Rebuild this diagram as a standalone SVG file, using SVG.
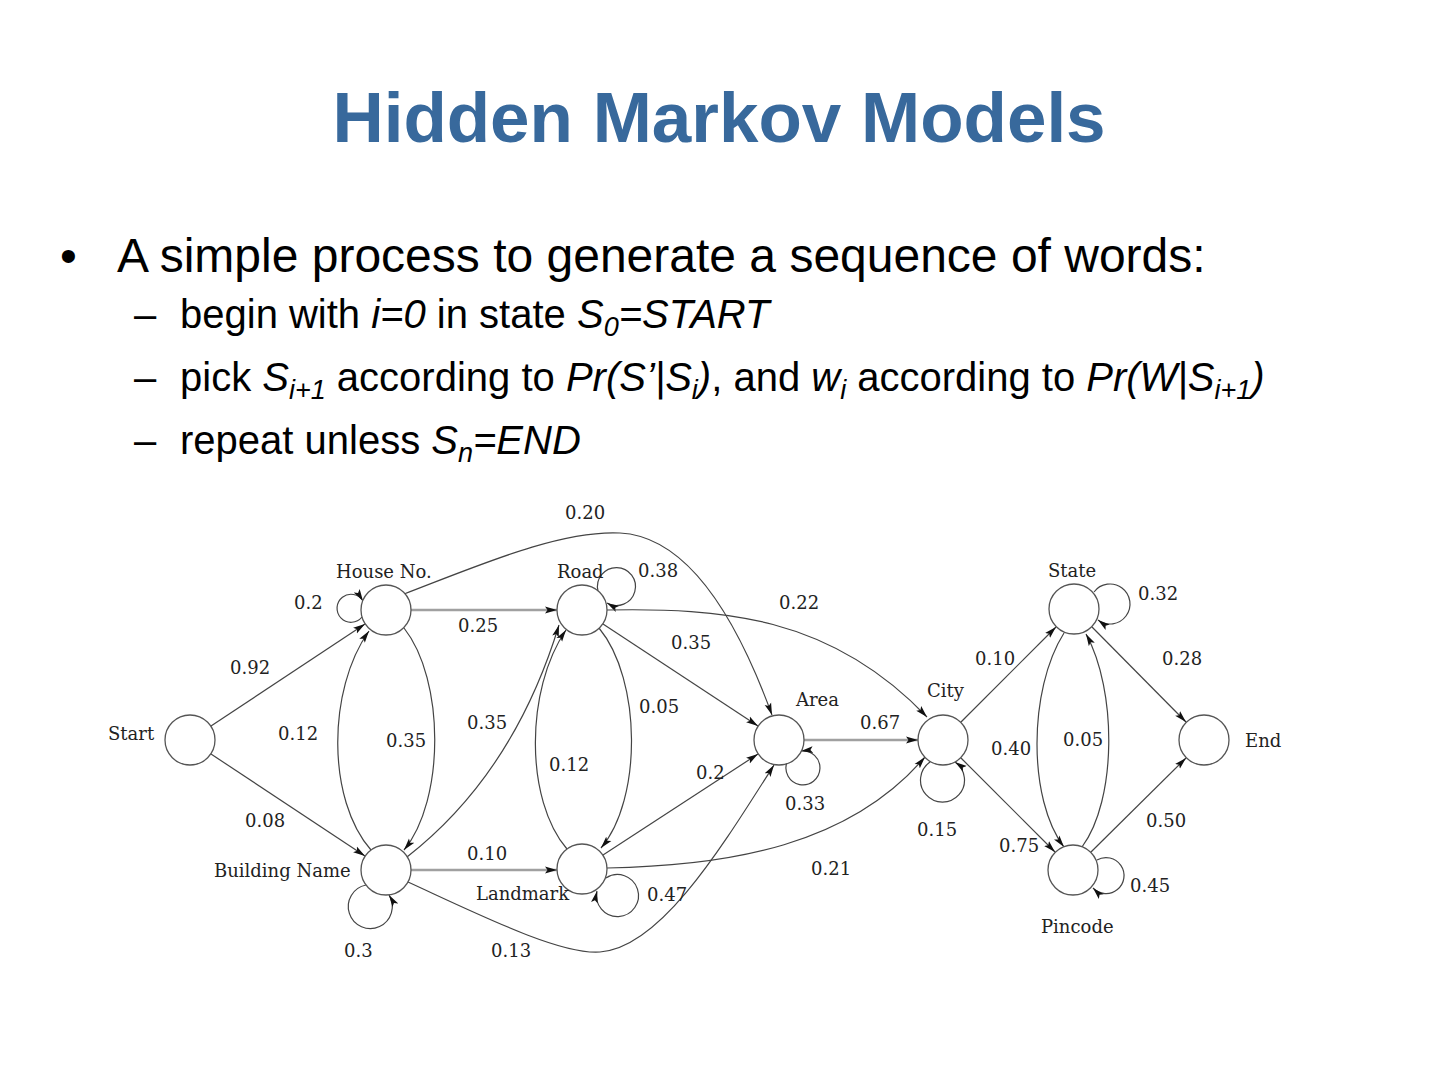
<svg xmlns="http://www.w3.org/2000/svg" width="1440" height="1080" viewBox="0 0 1440 1080">
<defs>
<marker id="ah" markerUnits="userSpaceOnUse" markerWidth="13" markerHeight="8" refX="12" refY="4" orient="auto">
<path d="M0,0.6 L12,4 L0,7.4 L2.5,4 z" fill="#111"/>
</marker>
<style>
.title{font-family:"Liberation Sans",Arial,sans-serif;font-weight:bold;font-size:71px;fill:#38699c}
.b1{font-family:"Liberation Sans",Arial,sans-serif;font-size:48px;fill:#000}
.b2{font-family:"Liberation Sans",Arial,sans-serif;font-size:40px;fill:#000}
.it{font-style:italic}
.sub{font-size:27px;font-style:italic}
.node{fill:#fff;stroke:#555;stroke-width:1.3}
.lbl{font-family:"DejaVu Serif","Liberation Serif",serif;font-size:18px;fill:#222}
.e{fill:none;stroke:#444;stroke-width:1.2;marker-end:url(#ah)}
.g{fill:none;stroke:#a0a0a0;stroke-width:2.4;marker-end:url(#ah)}
</style>
</defs>
<rect width="1440" height="1080" fill="#fff"/>
<text class="title" x="719" y="142" text-anchor="middle">Hidden Markov Models</text>
<text class="b1" x="60" y="272">•</text>
<text class="b1" x="117" y="272">A simple process to generate a sequence of words:</text>
<text class="b2" x="134" y="328">–</text>
<text class="b2" x="180" y="328">begin with <tspan class="it">i=0</tspan> in state <tspan class="it">S</tspan><tspan class="sub" dy="8">0</tspan><tspan class="it" dy="-8">=START</tspan></text>
<text class="b2" x="134" y="391">–</text>
<text class="b2" x="180" y="391">pick <tspan class="it">S</tspan><tspan class="sub" dy="8">i+1</tspan><tspan dy="-8"> according to </tspan><tspan class="it">Pr(S’|S</tspan><tspan class="sub" dy="8">i</tspan><tspan class="it" dy="-8">)</tspan>, and <tspan class="it">w</tspan><tspan class="sub" dy="8">i</tspan><tspan dy="-8"> according to </tspan><tspan class="it">Pr(W|S</tspan><tspan class="sub" dy="8">i+1</tspan><tspan class="it" dy="-8">)</tspan></text>
<text class="b2" x="134" y="454">–</text>
<text class="b2" x="180" y="454">repeat unless <tspan class="it">S</tspan><tspan class="sub" dy="8">n</tspan><tspan class="it" dy="-8">=END</tspan></text>

<g id="connectors">
<path class="e" d="M211,726 L365,624"/>
<path class="e" d="M211,754 L365,856"/>
<path class="g" d="M411,610 L557,610"/>
<path class="e" d="M404,594 C480,565 560,530 620,533 C680,536 730,600 772,715"/>
<path class="e" d="M371,850 C327,800 327,690 369,631"/>
<path class="e" d="M404,628 C445,680 445,800 404,850"/>
<path class="e" d="M366,885 A22,22 0 1 0 389,895"/>
<path class="e" d="M407,857 C480,800 530,720 559,625"/>
<path class="e" d="M567,849 C525,800 525,690 566,630"/>
<path class="e" d="M599,628 C642,680 642,800 601,848"/>
<path class="e" d="M598,591 A19,19 0 1 1 607,603"/>
<path class="e" d="M603,624 L758,726"/>
<path class="e" d="M607,610 C720,608 830,615 927,717"/>
<path class="g" d="M411,870 L557,870"/>
<path class="e" d="M408,882 C480,915 560,955 600,952 C660,948 720,850 774,765"/>
<path class="e" d="M606,878 A21,21 0 1 1 597,891"/>
<path class="e" d="M603,855 L758,754"/>
<path class="e" d="M607,868 C730,866 850,845 925,757"/>
<path class="e" d="M787,762 A17,17 0 1 0 801,751"/>
<path class="g" d="M804,740 L918,740"/>
<path class="e" d="M930,762 A22,22 0 1 0 955,762"/>
<path class="e" d="M961,722 L1056,627"/>
<path class="e" d="M961,758 L1055,852"/>
<path class="e" d="M1064,633 C1028,690 1028,800 1064,847"/>
<path class="e" d="M1082,847 C1117,800 1117,690 1086,634"/>
<path class="e" d="M1094,592 A20,20 0 1 1 1098,620"/>
<path class="e" d="M1092,627 L1186,722"/>
<path class="e" d="M1091,852 L1186,758"/>
<path class="e" d="M1097,860 A18,18 0 1 1 1093,888"/>
<path class="e" d="M362,617 A14,14 0 1 1 363,601"/>
</g>

<g id="edge-labels" class="lbl">
<text x="565" y="519">0.20</text>
<text x="638" y="577">0.38</text>
<text x="294" y="609">0.2</text>
<text x="458" y="632">0.25</text>
<text x="779" y="609">0.22</text>
<text x="1138" y="600">0.32</text>
<text x="230" y="674">0.92</text>
<text x="671" y="649">0.35</text>
<text x="975" y="665">0.10</text>
<text x="1162" y="665">0.28</text>
<text x="639" y="713">0.05</text>
<text x="467" y="729">0.35</text>
<text x="860" y="729">0.67</text>
<text x="278" y="740">0.12</text>
<text x="386" y="747">0.35</text>
<text x="991" y="755">0.40</text>
<text x="1063" y="746">0.05</text>
<text x="549" y="771">0.12</text>
<text x="696" y="779">0.2</text>
<text x="785" y="810">0.33</text>
<text x="245" y="827">0.08</text>
<text x="917" y="836">0.15</text>
<text x="1146" y="827">0.50</text>
<text x="999" y="852">0.75</text>
<text x="467" y="860">0.10</text>
<text x="811" y="875">0.21</text>
<text x="1130" y="892">0.45</text>
<text x="647" y="901">0.47</text>
<text x="344" y="957">0.3</text>
<text x="491" y="957">0.13</text>
</g>

<g id="start"><circle class="node" cx="190" cy="740" r="25"/><text class="lbl" x="108" y="740">Start</text></g>
<g id="house-no"><circle class="node" cx="386" cy="610" r="25"/><text class="lbl" x="336" y="578">House No.</text></g>
<g id="road"><circle class="node" cx="582" cy="610" r="25"/><text class="lbl" x="557" y="578">Road</text></g>
<g id="building-name"><circle class="node" cx="386" cy="870" r="25"/><text class="lbl" x="214" y="877">Building Name</text></g>
<g id="landmark"><circle class="node" cx="582" cy="869" r="25"/><text class="lbl" x="476" y="900">Landmark</text></g>
<g id="area"><circle class="node" cx="779" cy="740" r="25"/><text class="lbl" x="796" y="706">Area</text></g>
<g id="city"><circle class="node" cx="943" cy="740" r="25"/><text class="lbl" x="927" y="697">City</text></g>
<g id="state"><circle class="node" cx="1074" cy="609" r="25"/><text class="lbl" x="1048" y="577">State</text></g>
<g id="pincode"><circle class="node" cx="1073" cy="870" r="25"/><text class="lbl" x="1041" y="933">Pincode</text></g>
<g id="end"><circle class="node" cx="1204" cy="740" r="25"/><text class="lbl" x="1245" y="747">End</text></g>
</svg>
